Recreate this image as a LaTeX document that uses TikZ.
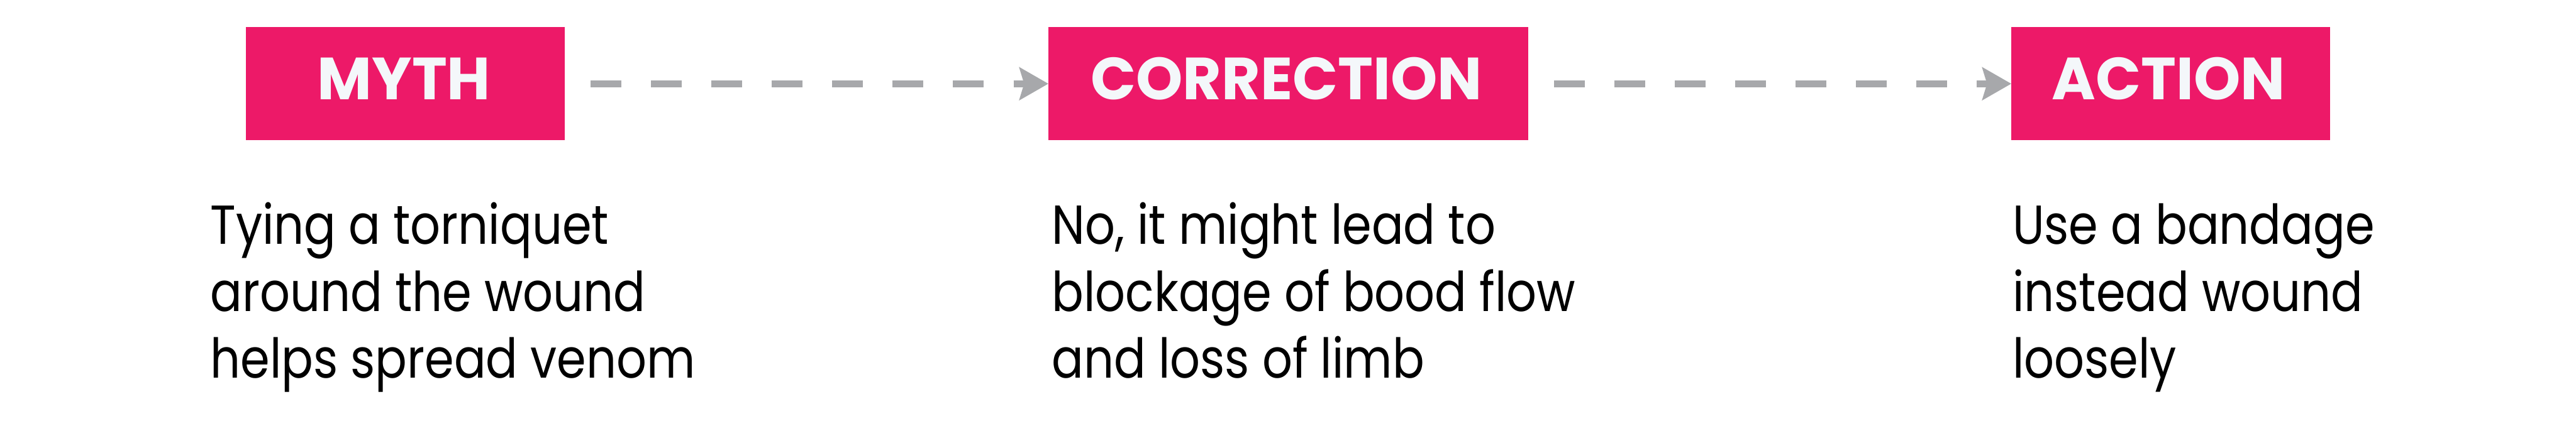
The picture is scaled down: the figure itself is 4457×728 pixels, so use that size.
\documentclass[tikz,border=0pt]{standalone}
\usepackage{fontspec}
\setmainfont{Poppins}
\newfontfamily\bodyfont[FakeStretch=0.86]{Poppins}
\usetikzlibrary{arrows.meta}
\definecolor{pinkbox}{RGB}{237,25,104}
\definecolor{arrowgray}{RGB}{167,168,171}
\definecolor{hdrwhite}{RGB}{244,247,250}
\begin{document}
\begin{tikzpicture}[x=0.2pt,y=-0.2pt,
  box/.style={fill=pinkbox, draw=none, inner sep=0pt, outer sep=0pt, minimum height=39.2pt},
  hdr/.style={text=hdrwhite, font=\fontsize{20.6pt}{24pt}\selectfont\bfseries, inner sep=0pt, anchor=base},
  body/.style={text=black, font=\bodyfont\fontsize{19pt}{23.2pt}\selectfont, inner sep=0pt, align=left, anchor=base west},
  flow/.style={draw=arrowgray, line width=2.4pt, dash pattern=on 10.6pt off 10.3pt,
    -{Stealth[length=10pt, width=11.2pt, inset=1.6pt]}, shorten <=9pt}
]
\useasboundingbox (0,0) rectangle (4457,728);
\node[box, minimum width=110.4pt] (myth) at (701,145) {};
\node[box, minimum width=166pt] (corr) at (2229,145) {};
\node[box, minimum width=110.4pt] (act) at (3756,145) {};
\node[hdr] (mythl) at (699,172) {MYTH};
\node[hdr] (corrl) at (2226,172) {CORRECTION};
\node[hdr] (actl) at (3752,172) {ACTION};
\draw[flow] (myth) -- (corr);
\draw[flow] (corr) -- (act);
\node[body] (t1) at (363,655) {Tying a torniquet\\around the wound\\helps spread venom};
\node[body] (t2) at (1819,655) {No, it might lead to\\blockage of bood flow\\and loss of limb};
\node[body] (t3) at (3481,655) {Use a bandage\\instead wound\\loosely};
\end{tikzpicture}
\end{document}
